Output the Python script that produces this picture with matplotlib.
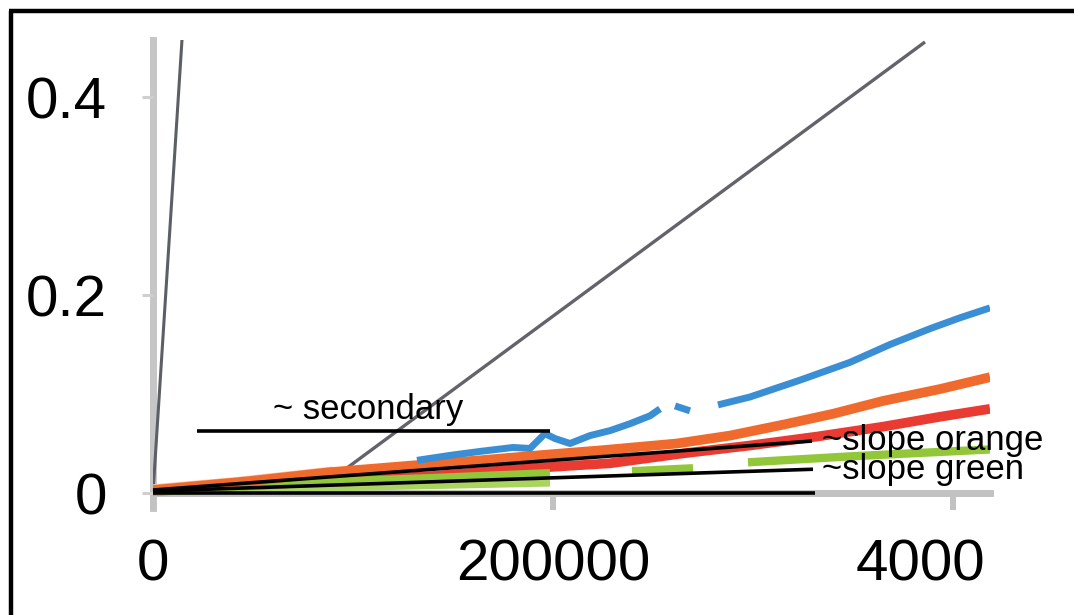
import matplotlib
matplotlib.use('Agg')
import matplotlib.pyplot as plt
from matplotlib.lines import Line2D
from matplotlib.transforms import Bbox, TransformedBbox
import numpy as np

plt.rcParams['font.family'] = ['Liberation Sans', 'DejaVu Sans']

# reference lines (grey)
steep_x = [0, 14500]
steep_y = [0, 0.458]
diag_x = [97000, 386000]
diag_y = [0.0253, 0.4556]

# measured series (NaN = gap)
blue_x = [132000, 148500, 163500, 180000, 188500, 196000, 201000, 208500, 218500, 228500,
          238500, 248500, 253500, np.nan, 261000, 268500, np.nan, 282500, 298500, 323500,
          348500, 368500, 388500, 403500, 418500]
blue_y = [0.033, 0.038, 0.042, 0.046, 0.045, 0.060, 0.055, 0.050, 0.058, 0.063,
          0.070, 0.078, 0.085, np.nan, 0.088, 0.083, np.nan, 0.089, 0.097, 0.114,
          0.132, 0.150, 0.166, 0.177, 0.187]

orange_x = [0, 48500, 88500, 131000, 163500, 198500, 223500, 262000, 288500, 315000,
            340000, 365000, 393500, 418500]
orange_y = [0.003, 0.012, 0.021, 0.028, 0.033, 0.039, 0.043, 0.050, 0.058, 0.069,
            0.080, 0.093, 0.105, 0.117]

red_x = [0, 48500, 98500, 138500, 188500, 228500, 265000, 298500, 332000, 365000,
         393500, 418500]
red_y = [0.002, 0.008, 0.013, 0.017, 0.025, 0.030, 0.040, 0.048, 0.057, 0.067,
         0.077, 0.085]

green_x = [0, 83500, 138500, 198500, np.nan, 239500, 270000, np.nan, 297500, 348500, 418500]
green_y = [0.001, 0.011, 0.015, 0.020, np.nan, 0.022, 0.025, np.nan, 0.031, 0.037, 0.044]

pale_green_x = [0, 83500, 198500]
pale_green_y = [0.001, 0.005, 0.010]

pale_x = [0, 40000, 90000]
pale_y = [0.006, 0.013, 0.024]

# annotation guides
secondary_x = [22000, 198500]
secondary_y = [0.0626, 0.0626]
slope_orange_x = [0, 329500]
slope_orange_y = [0.003, 0.0525]
slope_green_x = [0, 330000]
slope_green_y = [0.002, 0.024]
base_x = [0, 331000]
base_y = [0, 0]

xticks = [0, 200000, 400000]
xlabels = ['0', '200000', '400000']
yticks = [0, 0.2, 0.4]
ylabels = ['0', '0.2', '0.4']

W, H = 1074, 615
fig = plt.figure(figsize=(W / 100, H / 100), dpi=100)
ax = fig.add_axes([153 / W, (H - 508) / H, (990 - 153) / W, (508 - 40) / H])

ax.plot(steep_x, steep_y, color='#5c5f66', lw=2.2, solid_capstyle='butt')
ax.plot(diag_x, diag_y, color='#636469', lw=2.4, solid_capstyle='butt')
ax.plot(pale_x, pale_y, color='#f7c9a8', lw=4, solid_capstyle='butt')
ax.plot(pale_green_x, pale_green_y, color='#a9d45e', lw=5, solid_capstyle='butt')
ax.plot(red_x, red_y, color='#ea3b32', lw=7, solid_capstyle='butt')
ax.plot(green_x, green_y, color='#93c73a', lw=6, solid_capstyle='butt')
ax.plot(orange_x, orange_y, color='#ef6a2c', lw=7, solid_capstyle='butt')
ax.plot(blue_x, blue_y, color='#3a8fd4', lw=5, solid_capstyle='butt')

for xs, ys in [(secondary_x, secondary_y), (slope_orange_x, slope_orange_y),
               (slope_green_x, slope_green_y), (base_x, base_y)]:
    ax.plot(xs, ys, color='black', lw=2.6, solid_capstyle='butt', clip_on=False)

ax.text(60000, 0.0845, '~ secondary', fontsize=25, va='center', ha='left')
ax.text(334500, 0.0535, '~slope orange', fontsize=25, va='center', ha='left')
ax.text(334500, 0.0235, '~slope green', fontsize=25, va='center', ha='left')

ax.set_xlim(0, 418500)
ax.set_ylim(-0.01515, 0.4576)

for s in ['top', 'right']:
    ax.spines[s].set_visible(False)
ax.spines['left'].set_color('#c6c6c6')
ax.spines['left'].set_linewidth(5)
ax.spines['bottom'].set_color('#c2c2c2')
ax.spines['bottom'].set_linewidth(5)
ax.spines['bottom'].set_position(('data', 0))
ax.spines['left'].set_zorder(0.5)
ax.spines['bottom'].set_zorder(0.5)

ax.set_xticks(xticks)
ax.set_xticklabels(xlabels)
ax.set_yticks(yticks)
ax.set_yticklabels(ylabels)
ax.tick_params(axis='x', direction='out', length=12, width=4.3, color='#c2c2c2',
               labelsize=42, pad=21)
ax.tick_params(axis='y', direction='out', length=8, width=2.2, color='#cfcfcf',
               labelsize=42, pad=25)

# the last x label is cut off at the right in the original
clip = TransformedBbox(Bbox([[0, 0], [986 / W, 1]]), fig.transFigure)
lab = ax.get_xticklabels()[2]
lab.set_clip_box(clip)
lab.set_clip_on(True)

# frame on top and left
fig.add_artist(Line2D([10.5 / W, 10.5 / W], [0, 1 - 10.5 / H], transform=fig.transFigure,
                      color='black', lw=3.2, solid_capstyle='butt'))
fig.add_artist(Line2D([9 / W, 1], [1 - 10.5 / H, 1 - 10.5 / H], transform=fig.transFigure,
                      color='black', lw=3.2, solid_capstyle='butt'))

fig.savefig('out.png', dpi=100)
